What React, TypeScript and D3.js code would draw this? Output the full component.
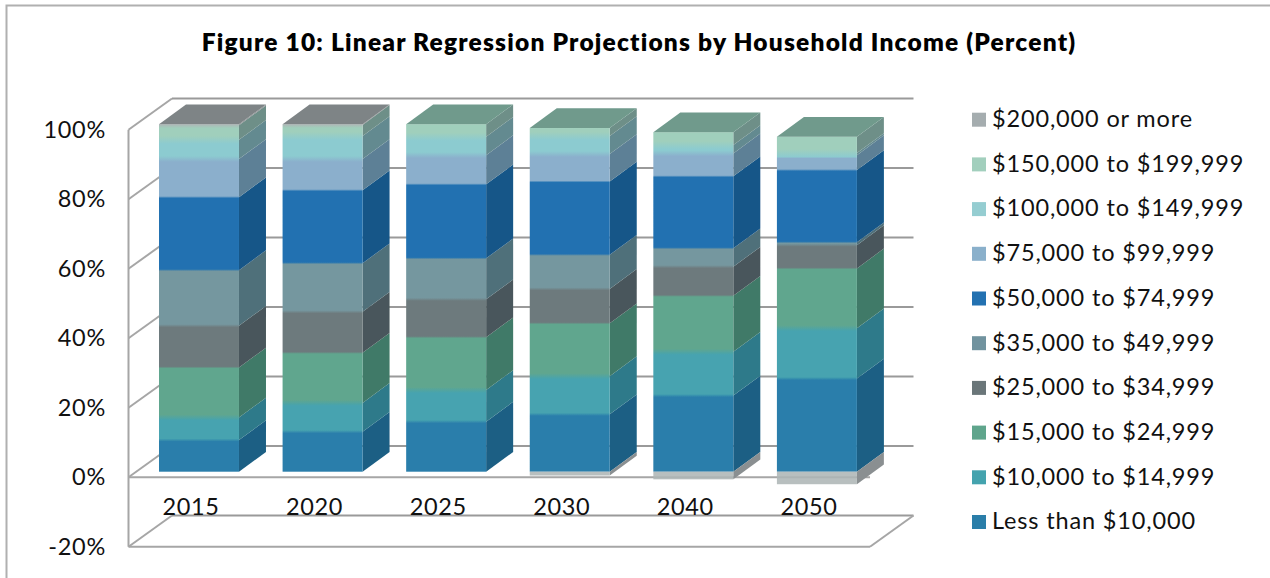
import React from "react";
import * as d3 from "d3";

const title = "Figure 10: Linear Regression Projections by Household Income (Percent)";
const years = ["2015", "2020", "2025", "2030", "2040", "2050"];
const ticks = [100, 80, 60, 40, 20, 0, -20];

const lessThan10k = [9.1, 11.5, 14.4, 16.5, 21.9, 26.8];
const from10k = [6.5, 8.3, 9.1, 11, 12.6, 14.5];
const from15k = [14.4, 14.4, 15.2, 15.2, 16.1, 17.2];
const from25k = [12, 11.8, 10.9, 9.9, 8.4, 6.7];
const from35k = [16, 14, 11.8, 9.8, 5.3, 0.8];
const from50k = [21, 21, 21.3, 21.1, 20.7, 20.8];
const from75k = [11, 9, 8.4, 7.9, 6.6, 4.3];
const from100k = [5.5, 6.6, 5.3, 5.2, 2.4, 0.6];
const from150k = [4.2, 3.2, 3.6, 2.3, 3.7, 4.7];
const over200k = [0.3, 0.2, 0, -1.1, -2.2, -3.6];

const seriesValues = [lessThan10k, from10k, from15k, from25k, from35k, from50k, from75k, from100k, from150k, over200k];
const seriesNames = [
  "Less than $10,000", "$10,000 to $14,999", "$15,000 to $24,999", "$25,000 to $34,999", "$35,000 to $49,999",
  "$50,000 to $74,999", "$75,000 to $99,999", "$100,000 to $149,999", "$150,000 to $199,999", "$200,000 or more",
];
const frontColors = ["#2a7eab", "#46a3b0", "#60a68e", "#6d7a7d", "#75979f", "#2071b1", "#8bafcc", "#8ccbd0", "#a0cfbc", "#aeb6b6"];
const sideColors = ["#1b5f84", "#2e7a8a", "#3f7a68", "#4a575b", "#50707a", "#145688", "#5d8096", "#648a90", "#6e8f88", "#8a8f91"];
const topColors = ["#1b5f84", "#2e7a8a", "#3f7a68", "#4a575b", "#50707a", "#145688", "#5f87a3", "#688f96", "#6f9a8c", "#7e8486"];
const legendColors = ["#2a7ea9", "#44a3ae", "#5fa58c", "#6a7679", "#71939f", "#2371b1", "#8ab0cb", "#95cdd1", "#a2cfbd", "#a5adaf"];
// half-width in px of the colour blend above each series' front band
const blendPx = [1.5, 3, 1, 1.5, 1, 1, 3, 4, 3, 1];

const FONT = "Lato, sans-serif";
const LINE = "#a6a6a6";
const BACKLINE = "#9a9a9a";

export default function App() {
  const width = 1270, height = 578;
  const wallDx = 43.5, wallDy = 31.3;
  const barShiftX = 8.7, barShiftY = 5.6, depthX = 27, depthY = 19.8;

  const y = d3.scaleLinear().domain([0, 100]).range([477.3, 129.8]);
  const x = d3.scaleBand<string>().domain(years).range([128.5, 870]).paddingInner(0.3528).paddingOuter(0.1764);

  const rows = years.map((yr, i) => {
    const r: Record<string, number | string> = { year: yr };
    seriesNames.forEach((n, s) => (r[n] = seriesValues[s][i]));
    return r;
  });
  const stacked = d3.stack<any>().keys(seriesNames).offset(d3.stackOffsetDiverging)(rows);

  const poly = (pts: [number, number][]) => d3.line()(pts) + "Z";

  const left = 128.5, right = 870;
  const legendY = d3.scaleLinear().domain([0, 9]).range([127, 529.3]);
  const Y = (v: number) => y(v) - barShiftY;

  const barMeta = years.map((_, i) => {
    const pos = stacked.filter((s) => s[i][1] > s[i][0] && s[i][0] >= 0);
    const topIndex = d3.max(pos.map((s) => s.index))!;
    const topV = stacked[topIndex][i][1];
    const y1 = Y(topV), y2 = Y(0);
    const f = (py: number) => Math.max(0, Math.min(1, (py - y1) / (y2 - y1)));
    // stops run from the bar top downward
    const stops: { o: number; c: string }[] = [];
    [...pos].reverse().forEach((s, k, arr) => {
      const c = frontColors[s.index];
      const upperBlend = k === 0 ? 0 : blendPx[s.index];
      const lowerBlend = k === arr.length - 1 ? 0 : blendPx[arr[k + 1].index];
      stops.push({ o: f(Y(s[i][1]) + upperBlend), c });
      stops.push({ o: f(Y(s[i][0]) - lowerBlend), c });
    });
    return { pos, topIndex, topV, stops };
  });

  return (
    <svg width={width} height={height} style={{ position: "absolute", left: 0, top: 0, background: "#fff" }}>
      <defs>
        <filter id="soft" x="-5%" y="-5%" width="110%" height="110%">
          <feGaussianBlur stdDeviation="0.7" />
        </filter>
        {years.map((yr, i) => (
          <linearGradient key={yr} id={`front${yr}`} gradientUnits="userSpaceOnUse" x1={0} x2={0} y1={Y(barMeta[i].topV)} y2={Y(0)}>
            {barMeta[i].stops.map((st, k) => (
              <stop key={k} offset={st.o} stopColor={st.c} />
            ))}
          </linearGradient>
        ))}
      </defs>
      <path d="M6.5 578V5.5H1270" fill="none" stroke="#b0b0b0" strokeWidth={2} />
      <text x={639} y={51} textAnchor="middle" fontFamily={FONT} fontWeight={800} fontSize={24.5} letterSpacing={1.2} fill="#000">{title}</text>

      <g fill="none" stroke={LINE} strokeWidth={2}>
        <line x1={left} x2={left} y1={y(100)} y2={y(-20)} />
        {ticks.map((t) => (
          <g key={t}>
            <line x1={left} y1={y(t)} x2={left + wallDx} y2={y(t) - wallDy} />
            <line x1={left + wallDx} y1={y(t) - wallDy} x2={right + wallDx} y2={y(t) - wallDy} stroke={BACKLINE} />
          </g>
        ))}
        <line x1={left} x2={right} y1={y(0)} y2={y(0)} />
        <line x1={left} x2={right} y1={y(-20)} y2={y(-20)} />
        <line x1={right} y1={y(-20)} x2={right + wallDx} y2={y(-20) - wallDy} />
      </g>

      {ticks.map((t) => (
        <text key={t} x={106} y={y(t) + 8} textAnchor="end" fontFamily={FONT} fontSize={23.5} letterSpacing={0.7} fill="#111">{t}%</text>
      ))}

      {years.map((yr, i) => {
        const x0 = x(yr)! + barShiftX;
        const x1 = x0 + x.bandwidth();
        const { topIndex, topV } = barMeta[i];
        return (
          <g key={yr} filter="url(#soft)">
            {stacked.map((s) => {
              const [a, b] = s[i];
              if (a === b) return null;
              return (
                <path key={s.key} fill={sideColors[s.index]}
                  d={poly([[x1, Y(a)], [x1, Y(b)], [x1 + depthX, Y(b) - depthY], [x1 + depthX, Y(a) - depthY]])} />
              );
            })}
            <rect x={x0} width={x1 - x0} y={Y(topV)} height={Y(0) - Y(topV)} fill={`url(#front${yr})`} />
            {stacked.filter((s) => s[i][0] < 0).map((s) => (
              <rect key={s.key} x={x0} width={x1 - x0} y={Y(s[i][1])} height={Y(s[i][0]) - Y(s[i][1])}
                fill={frontColors[s.index]} fillOpacity={0.88} />
            ))}
            <path fill={topColors[topIndex]}
              d={poly([[x0, Y(topV)], [x1, Y(topV)], [x1 + depthX, Y(topV) - depthY], [x0 + depthX, Y(topV) - depthY]])} />
          </g>
        );
      })}

      {years.map((yr) => (
        <text key={yr} x={x(yr)! + x.bandwidth() / 2 + 0.7} y={515} textAnchor="middle" fontFamily={FONT} fontSize={23.5} letterSpacing={0.6} fill="#111">{yr}</text>
      ))}

      {seriesNames.map((n, i) => {
        const by = legendY(9 - i);
        return (
          <g key={n}>
            <rect x={972} y={by - 14.3} width={14} height={14} fill={legendColors[i]} />
            <text x={992} y={by} fontFamily={FONT} fontSize={23.5} letterSpacing={0.85} fill="#111">{n}</text>
          </g>
        );
      })}
    </svg>
  );
}
